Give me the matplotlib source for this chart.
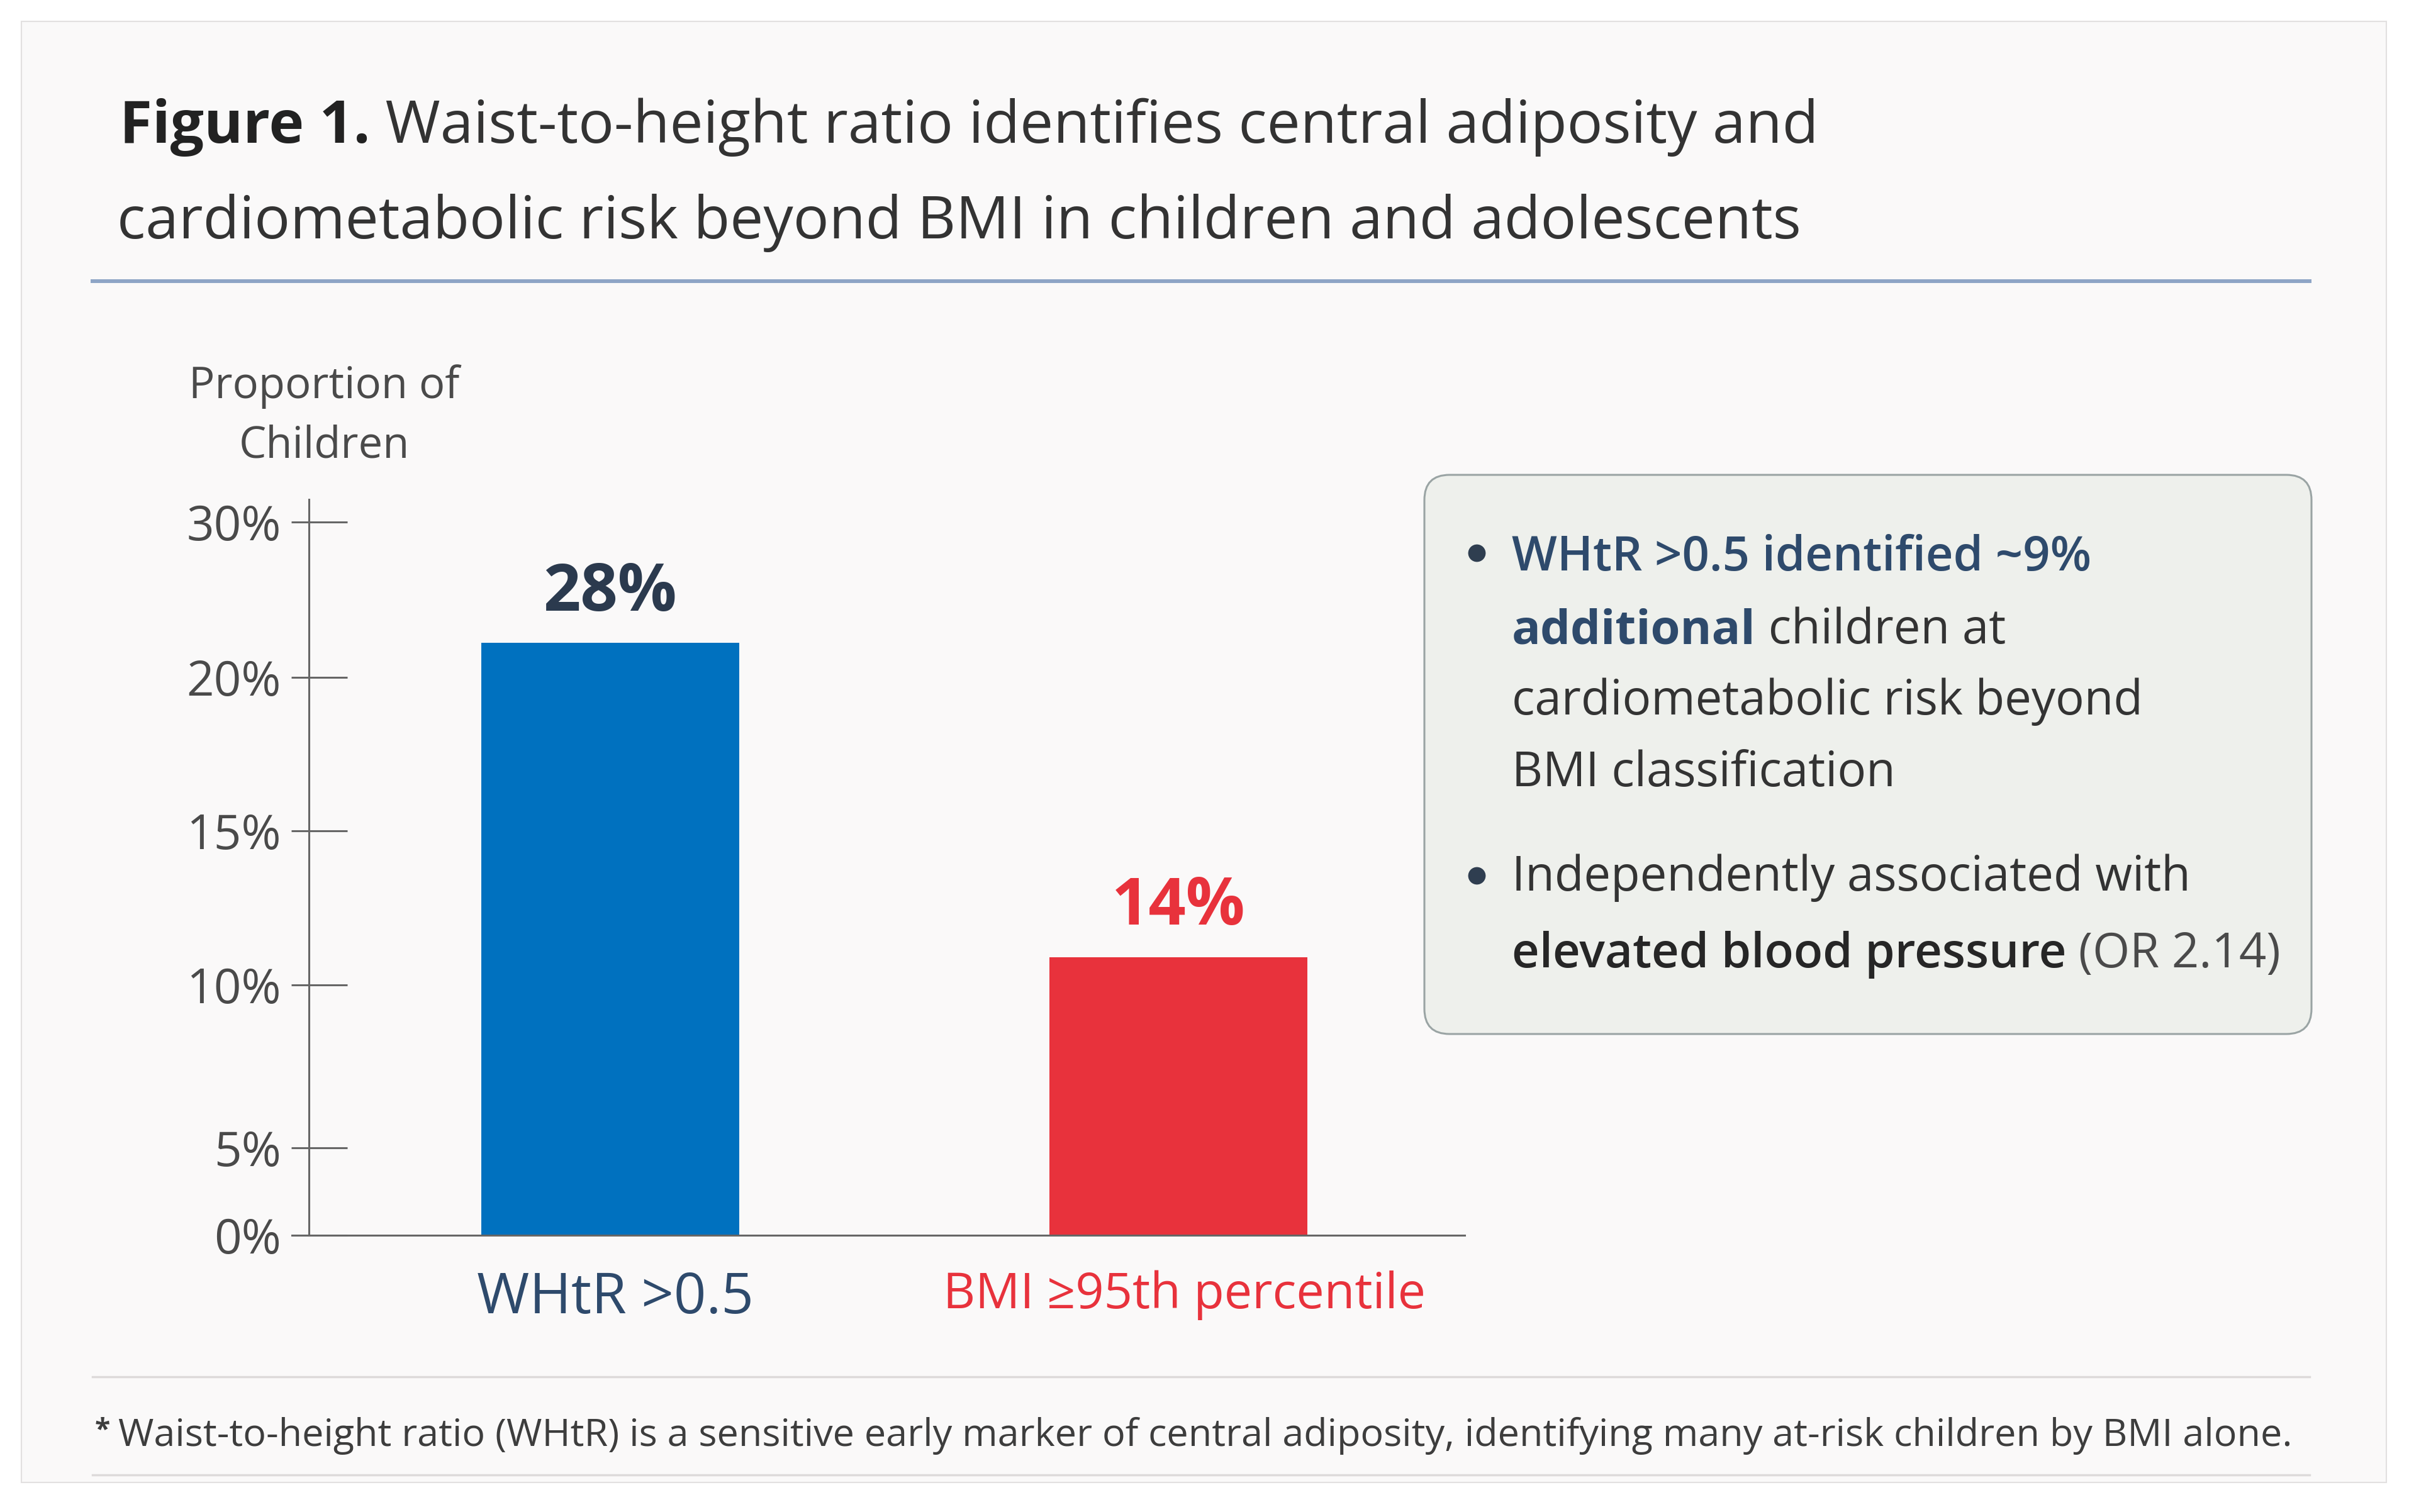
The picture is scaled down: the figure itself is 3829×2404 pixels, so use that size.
import matplotlib
matplotlib.use("Agg")
import matplotlib.pyplot as plt
import matplotlib.transforms as mtransforms
from matplotlib.patches import FancyBboxPatch, Rectangle
from matplotlib.lines import Line2D
from matplotlib.ticker import FixedLocator
import numpy as np

plt.rcParams["font.family"] = ["Open Sans", "DejaVu Sans"]

# data
categories = ["WHtR >0.5", "BMI ≥95th percentile"]
bar_heights = [22.2, 10.9]          # bar tops as read against the drawn axis
bar_labels = ["28%", "14%"]
tick_values = [0, 5, 10, 15, 20, 30]
tick_labels = ["0%", "5%", "10%", "15%", "20%", "30%"]

# the axis in the picture is not linear: pixel height of each tick above 0%
scale_knots = [0, 5, 10, 15, 20, 30, 32]
scale_pos = [0, 139, 398, 643, 887, 1134, 1183]

W, H = 3830, 2404
BLUE, RED = "#0071bf", "#e8323c"
NAVY, DARK, GREY = "#2e4a6c", "#333333", "#4a4a4a"

fig = plt.figure(figsize=(W / 100, H / 100), dpi=100)
fig.patch.set_facecolor("white")
ident = mtransforms.IdentityTransform()
renderer = fig.canvas.get_renderer()


def Y(y):
    return H - y


def text_width(s, **kw):
    t = fig.text(0, 0, "|" + s + "|", transform=ident, **kw)
    w1 = t.get_window_extent(renderer).width
    t.set_text("||")
    w0 = t.get_window_extent(renderer).width
    t.remove()
    return w1 - w0


def rich_line(x, y, parts, size):
    for s, weight, color in parts:
        kw = dict(fontsize=size, fontweight=weight)
        fig.text(x, Y(y), s, transform=ident, color=color, va="baseline", ha="left", zorder=5, **kw)
        x += text_width(s, **kw)


# card background
fig.patches.append(Rectangle((34, Y(2357)), 3793 - 34, 2357 - 34, transform=ident,
                             facecolor="#faf9f9", edgecolor="#e2e0e0", linewidth=1.5, zorder=-2))

# title
rich_line(190, 227, [("Figure 1.", "bold", "#222222"),
                     (" Waist-to-height ratio identifies central adiposity and", "normal", DARK)], 68)
rich_line(186, 379, [("cardiometabolic risk beyond BMI in children and adolescents", "normal", DARK)], 68)
fig.lines.append(Line2D([147, 3671], [Y(447), Y(447)], transform=ident, color="#8ea5c6", linewidth=4.3))

# axis title
fig.text(515, Y(633), "Proportion of", transform=ident, ha="center", va="baseline", fontsize=49.5, color=GREY)
fig.text(515, Y(728), "Children", transform=ident, ha="center", va="baseline", fontsize=49.5, color=GREY)

# bar chart
ax = fig.add_axes([491 / W, 1 - 1964 / H, (2328 - 491) / W, (1964 - 794) / H])
ax.set_zorder(3)
ax.patch.set_alpha(0)


def fwd(v):
    return np.interp(v, scale_knots, scale_pos)


def inv(p):
    return np.interp(p, scale_pos, scale_knots)


ax.set_yscale("function", functions=(fwd, inv))
x = np.arange(len(categories))
bars = ax.bar(x, bar_heights, width=0.454, color=[BLUE, RED], zorder=2)
ax.set_xlim(-0.530, 1.504)
ax.set_ylim(0, 31.46)

for b, lab, col in zip(bars, bar_labels, ["#2b3a4e", RED]):
    ax.annotate(lab, (b.get_x() + b.get_width() / 2, b.get_height()), xytext=(0, 37),
                textcoords="offset points", ha="center", va="baseline",
                fontsize=75, fontweight="bold", color=col)

ax.yaxis.set_major_locator(FixedLocator(tick_values))
ax.set_yticklabels(tick_labels)
ax.yaxis.set_minor_locator(FixedLocator(tick_values))
ax.yaxis.remove_overlapping_locs = False
ax.tick_params(axis="y", which="major", direction="in", length=44, width=2.2, color="#666666",
               pad=31.7, labelsize=55, labelcolor=GREY)
ax.tick_params(axis="y", which="minor", direction="out", length=20, width=2.2, color="#666666")

ax.set_xticks(x, categories)
ax.tick_params(axis="x", length=0, pad=40)
for lab, col, size, dx in zip(ax.get_xticklabels(), [NAVY, RED], [65, 57], [8, 10]):
    lab.set_color(col)
    lab.set_fontsize(size)
    lab.set_transform(lab.get_transform() + mtransforms.Affine2D().translate(dx, 0))

for side in ["top", "right"]:
    ax.spines[side].set_visible(False)
for side in ["left", "bottom"]:
    ax.spines[side].set_color("#666666")
    ax.spines[side].set_linewidth(2.2)
ax.spines["bottom"].set_bounds(-0.560, 1.504)

# callout box
fig.patches.append(FancyBboxPatch((2264, Y(1644)), 3674 - 2264, 1644 - 755, transform=ident,
                                  boxstyle="round,pad=0,rounding_size=40",
                                  facecolor="#eef0ec", edgecolor="#9aa4a4", linewidth=2.2, zorder=1))
bsize = 54.7
for cy in [879, 1392]:
    fig.lines.append(Line2D([2347], [Y(cy)], transform=ident, marker="o", markersize=19,
                            color="#2f3e50", linestyle="none", zorder=5))
rich_line(2403, 907, [("WHtR >0.5 identified ~9%", "semibold", NAVY)], bsize)
rich_line(2403, 1023, [("additional", "bold", NAVY), (" children at", "normal", DARK)], bsize)
rich_line(2403, 1136, [("cardiometabolic risk beyond", "normal", DARK)], bsize)
rich_line(2403, 1250, [("BMI classification", "normal", DARK)], bsize)
rich_line(2403, 1416, [("Independently associated with", "normal", DARK)], bsize)
rich_line(2403, 1538, [("elevated blood pressure", "semibold", "#262626"), (" (OR 2.14)", "normal", GREY)], bsize)

# footnote
for fy in [2189, 2345]:
    fig.lines.append(Line2D([147, 3671], [Y(fy), Y(fy)], transform=ident, color="#dddada", linewidth=2.5))
fig.text(151, Y(2286), "*", transform=ident, ha="left", va="baseline", fontsize=32,
         fontweight="bold", color="#3d3d3d")
fig.text(188, Y(2299), "Waist-to-height ratio (WHtR) is a sensitive early marker of central adiposity, "
         "identifying many at-risk children by BMI alone.", transform=ident, ha="left", va="baseline",
         fontsize=44, color="#3d3d3d")

fig.savefig("out.png", dpi=100, facecolor="white")
